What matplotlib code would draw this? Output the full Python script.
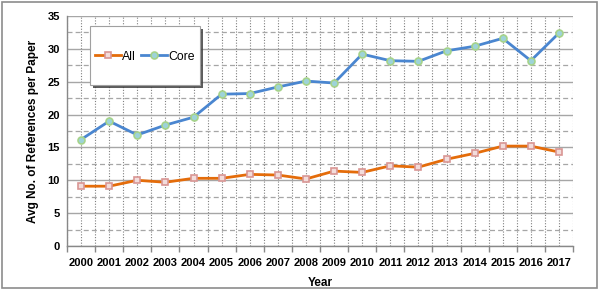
import matplotlib
matplotlib.use("Agg")
import matplotlib.pyplot as plt
import numpy as np
from matplotlib.patches import Rectangle
from matplotlib.ticker import FixedLocator, MultipleLocator

years = [str(y) for y in range(2000, 2018)]
all_refs = [9.1, 9.1, 10.0, 9.7, 10.3, 10.3, 10.9, 10.8, 10.2, 11.4,
            11.2, 12.2, 12.0, 13.2, 14.1, 15.2, 15.2, 14.3]
core_refs = [16.2, 19.0, 16.9, 18.4, 19.6, 23.1, 23.2, 24.2, 25.1, 24.8,
             29.2, 28.2, 28.1, 29.7, 30.4, 31.6, 28.2, 32.4]

plt.rcParams["font.family"] = ["Liberation Sans", "DejaVu Sans"]

W, H = 599, 291
fig = plt.figure(figsize=(W / 100, H / 100), dpi=100)
ax = fig.add_axes([67 / W, 1 - 246 / H, (573 - 67) / W, (246 - 16) / H])

x = np.arange(len(years))
ax.plot(x, all_refs, color="#E46C0A", lw=2, marker="s", ms=5,
        mfc="#F2DCDB", mec="#D99694", mew=1.2, label="All", zorder=3)
ax.plot(x, core_refs, color="#4A86D0", lw=2, marker="o", ms=5,
        mfc="#9DD3D8", mec="#A6D38A", mew=1.2, label="Core", zorder=3)

ax.set_xlim(-0.5, len(years) - 0.5)
ax.set_ylim(0, 35)

# ticks at category boundaries, labels at centres
ax.xaxis.set_major_locator(FixedLocator(np.arange(-0.5, len(years), 1.0)))
ax.set_xticklabels([])
ax.set_xticks(x, labels=years, minor=True)
ax.tick_params(axis="x", which="major", length=4, color="#888888", width=1)
ax.tick_params(axis="x", which="minor", length=0, pad=9)
ax.yaxis.set_major_locator(MultipleLocator(5))
ax.yaxis.set_minor_locator(MultipleLocator(2.5))
ax.tick_params(axis="y", which="major", length=0, pad=5)
ax.tick_params(axis="y", which="minor", length=0)
for lab in ax.get_xticklabels(minor=True) + ax.get_yticklabels():
    lab.set_fontsize(8)
    lab.set_fontweight("bold")

# grid
ax.grid(axis="y", which="major", color="#A6A6A6", lw=1, ls="-")
ax.grid(axis="y", which="minor", color="#A6A6A6", lw=0.9, ls=(0, (4, 2.5)))
ax.grid(axis="x", which="both", color="#7F7F7F", lw=0.8, ls=(0, (1, 1.5)))
ax.set_axisbelow(True)

for side in ["top", "right"]:
    ax.spines[side].set_visible(False)
for side in ["left", "bottom"]:
    ax.spines[side].set_color("#888888")
    ax.spines[side].set_linewidth(1)

ax.set_xlabel("Year", fontsize=8.5, fontweight="bold", labelpad=6)
ax.set_ylabel("Avg No. of References per Paper", fontsize=8.5,
              fontweight="bold", labelpad=6)

# legend box with shadow, placed in figure pixels
bx0, by0, bw, bh = 90, 26, 110, 59
box_kw = dict(transform=fig.transFigure, zorder=5)
shadow = Rectangle(((bx0 + 3) / W, 1 - (by0 + bh + 3) / H), bw / W, bh / H,
                   facecolor="#404040", edgecolor="none", alpha=0.85, **box_kw)
frame = Rectangle((bx0 / W, 1 - (by0 + bh) / H), bw / W, bh / H,
                  facecolor="white", edgecolor="#A0A0A0", lw=0.8, **box_kw)
fig.patches.extend([shadow, frame])

leg = fig.legend(loc="center", bbox_to_anchor=((bx0 + bw / 2) / W,
                                                1 - (by0 + bh / 2 + 1) / H),
                 ncol=2, frameon=False, fontsize=8.8, handlelength=2.1,
                 handletextpad=0.15, columnspacing=0.4, borderpad=0)
leg.set_zorder(6)

# outer chart border
fig.patches.append(Rectangle((2 / W, 3 / H), 595 / W, 286 / H,
                             transform=fig.transFigure, fill=False,
                             edgecolor="#8C8C8C", lw=1.2))

fig.savefig("out.png", dpi=100)
